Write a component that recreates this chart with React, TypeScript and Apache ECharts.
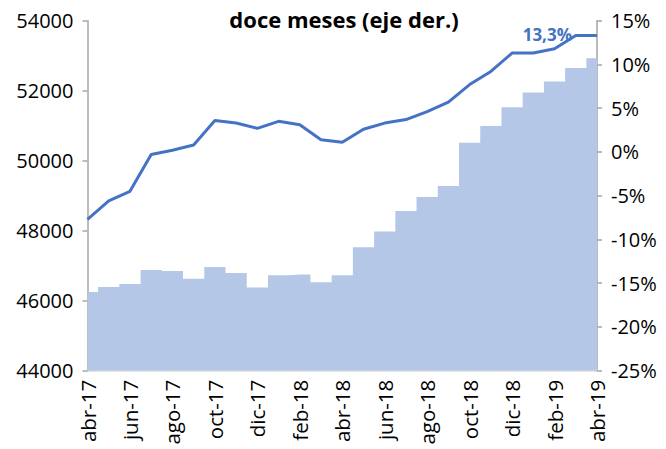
import React, { useEffect, useRef } from "react";
import * as echarts from "echarts";

const categories = [
  "abr-17", "may-17", "jun-17", "jul-17", "ago-17", "sep-17", "oct-17", "nov-17", "dic-17",
  "ene-18", "feb-18", "mar-18", "abr-18", "may-18", "jun-18", "jul-18", "ago-18", "sep-18",
  "oct-18", "nov-18", "dic-18", "ene-19", "feb-19", "mar-19", "abr-19",
];
const levelValues = [
  46250, 46390, 46480, 46880, 46850, 46630, 46960, 46790, 46380, 46730, 46750, 46530, 46730,
  47530, 47980, 48560, 48960, 49280, 50510, 50990, 51530, 51950, 52260, 52650, 52930,
];
const growthValues = [
  -7.7, -5.6, -4.5, -0.3, 0.2, 0.8, 3.6, 3.3, 2.7, 3.5, 3.1, 1.4, 1.1, 2.6, 3.3, 3.7, 4.6,
  5.7, 7.7, 9.2, 11.3, 11.3, 11.8, 13.3, 13.3,
];
const leftTicks = { min: 44000, max: 54000, interval: 2000 };
const rightTicks = { min: -25, max: 15, interval: 5 };
const titleText = "doce meses (eje der.)";

const FONT = "Open Sans";

export default function App() {
  const ref = useRef<HTMLDivElement>(null);
  useEffect(() => {
    if (!ref.current) return;
    const chart = echarts.init(ref.current, null, { renderer: "svg" });
    const last = growthValues.length - 1;
    chart.setOption({
      animation: false,
      textStyle: { fontFamily: FONT },
      grid: { left: 87.5, right: 69, top: 20.7, bottom: 78.3, containLabel: false },
      graphic: [
        {
          type: "text",
          x: 344,
          y: 19,
          style: {
            text: titleText,
            fontFamily: FONT,
            fontWeight: "bold",
            fontSize: 22,
            fill: "#000",
            textAlign: "center",
            textVerticalAlign: "middle",
          },
        },
      ],
      xAxis: {
        type: "category",
        data: categories,
        boundaryGap: false,
        axisLine: { show: true, onZero: false, lineStyle: { color: "#d9d9d9", width: 1.5 } },
        axisTick: { show: false },
        axisLabel: {
          interval: 1,
          rotate: 90,
          fontSize: 20.5,
          color: "#000",
          fontFamily: FONT,
          margin: 9,
        },
        splitLine: { show: false },
      },
      yAxis: [
        {
          type: "value",
          min: leftTicks.min,
          max: leftTicks.max,
          interval: leftTicks.interval,
          axisLine: { show: true, onZero: false, lineStyle: { color: "#a6a6a6", width: 1.5 } },
          axisTick: { show: true, length: 5, inside: false, lineStyle: { color: "#a6a6a6", width: 1.5 } },
          axisLabel: { fontSize: 20, color: "#000", fontFamily: FONT, margin: 14, formatter: (v: number) => String(v) },
          splitLine: { show: false },
        },
        {
          type: "value",
          min: rightTicks.min,
          max: rightTicks.max,
          interval: rightTicks.interval,
          position: "right",
          axisLine: { show: true, onZero: false, lineStyle: { color: "#a6a6a6", width: 1.5 } },
          axisTick: { show: true, length: 5, inside: false, lineStyle: { color: "#a6a6a6", width: 1.5 } },
          axisLabel: { fontSize: 20, color: "#000", fontFamily: FONT, margin: 14, formatter: (v: number) => `${v}%` },
          splitLine: { show: false },
        },
      ],
      series: [
        {
          name: "nivel",
          type: "line",
          yAxisIndex: 0,
          data: levelValues,
          step: "middle",
          symbol: "none",
          lineStyle: { width: 0, color: "#B4C7E7" },
          areaStyle: { color: "#B4C7E7", opacity: 1, origin: "start" },
          z: 1,
        },
        {
          name: "crecimiento",
          type: "line",
          yAxisIndex: 1,
          showSymbol: true,
          symbol: "circle",
          symbolSize: 0,
          data: growthValues.map((v, i) =>
            i === last
              ? {
                  value: v,
                  label: {
                    show: true,
                    position: "left",
                    distance: 25,
                    offset: [0, -1],
                    formatter: () => `${v.toFixed(1).replace(".", ",")}%`,
                    color: "#4472C4",
                    fontWeight: "bold",
                    fontSize: 17,
                    fontFamily: FONT,
                  },
                }
              : v
          ),
          lineStyle: { width: 3, color: "#4472C4" },
          itemStyle: { color: "#4472C4" },
          z: 3,
        },
      ],
    });
    return () => chart.dispose();
  }, []);
  return (
    <div
      ref={ref}
      style={{ position: "absolute", left: 0, top: 0, width: 666, height: 449, background: "#fff" }}
    />
  );
}
